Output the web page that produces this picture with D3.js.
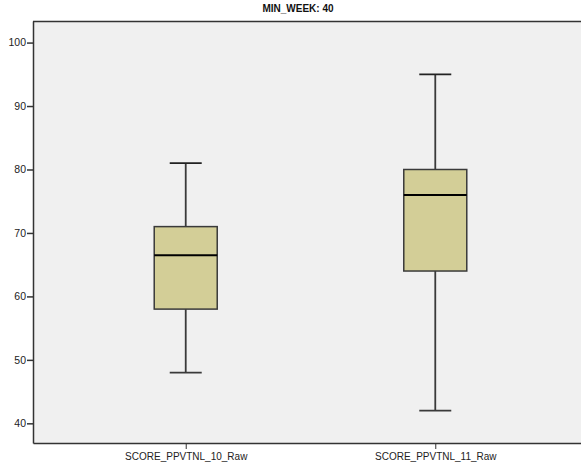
<!DOCTYPE html>
<html>
<head>
<meta charset="utf-8">
<script src="https://cdn.jsdelivr.net/npm/d3@7"></script>
<style>
  html, body { margin: 0; padding: 0; background: #ffffff; }
  svg { display: block; font-family: "Liberation Sans", Arial, sans-serif; }
</style>
</head>
<body>
<svg id="chart" width="581" height="469"></svg>
<script>
// Box-plot summaries per variable
const chartTitle = "MIN_WEEK: 40";
const categories = ["SCORE_PPVTNL_10_Raw", "SCORE_PPVTNL_11_Raw"];
const whiskerLow = [48, 42];
const quartile1 = [58, 64];
const medians = [66.5, 76];
const quartile3 = [71, 80];
const whiskerHigh = [81, 95];
const yTicks = [40, 50, 60, 70, 80, 90, 100];

const boxes = categories.map((c, i) => ({
  name: c, lo: whiskerLow[i], q1: quartile1[i], med: medians[i], q3: quartile3[i], hi: whiskerHigh[i]
}));

const svg = d3.select("#chart");
const plot = { left: 33, right: 588, top: 21, bottom: 443 };

const x = d3.scalePoint()
  .domain(categories)
  .range([plot.left, plot.right])
  .padding(0.612);

const y = d3.scaleLinear()
  .domain([36.9, 103.4])
  .range([plot.bottom, plot.top]);

// plot background
svg.append("rect")
  .attr("x", plot.left).attr("y", plot.top)
  .attr("width", plot.right - plot.left).attr("height", plot.bottom - plot.top)
  .attr("fill", "#f0f0f0");

// top frame line
svg.append("line")
  .attr("x1", plot.left).attr("x2", plot.right)
  .attr("y1", plot.top + 0.5).attr("y2", plot.top + 0.5)
  .attr("stroke", "#333").attr("stroke-width", 1.5);

// title
svg.append("text")
  .attr("x", 298).attr("y", 12)
  .attr("text-anchor", "middle")
  .attr("font-size", 10).attr("font-weight", "bold")
  .attr("fill", "#111")
  .text(chartTitle);

// y axis
const yAxis = svg.append("g")
  .attr("transform", `translate(${plot.left},0)`)
  .call(d3.axisLeft(y).tickValues(yTicks).tickSize(6).tickPadding(1).tickSizeOuter(0));
yAxis.select(".domain").attr("stroke", "#333").attr("stroke-width", 1.5);
yAxis.selectAll(".tick line").attr("stroke", "#333").attr("stroke-width", 1.5);
yAxis.selectAll(".tick text")
  .attr("font-size", 10.5).attr("fill", "#222")
  .attr("font-family", "Liberation Sans, Arial, sans-serif");

// x axis
const xAxis = svg.append("g")
  .attr("transform", `translate(0,${plot.bottom})`)
  .call(d3.axisBottom(x).tickSize(6).tickPadding(4).tickSizeOuter(0));
xAxis.select(".domain").attr("stroke", "#333").attr("stroke-width", 1.5);
xAxis.selectAll(".tick line").attr("stroke", "#333").attr("stroke-width", 1);
xAxis.selectAll(".tick text")
  .attr("font-size", 10).attr("fill", "#222")
  .attr("font-family", "Liberation Sans, Arial, sans-serif");

// boxes
const boxW = 63, capW = 32;
const g = svg.selectAll(".box").data(boxes).enter().append("g").attr("class", "box");

// whisker stems
g.append("line")
  .attr("x1", d => x(d.name)).attr("x2", d => x(d.name))
  .attr("y1", d => y(d.hi)).attr("y2", d => y(d.q3))
  .attr("stroke", "#3a3a3a").attr("stroke-width", 1.8);
g.append("line")
  .attr("x1", d => x(d.name)).attr("x2", d => x(d.name))
  .attr("y1", d => y(d.q1)).attr("y2", d => y(d.lo))
  .attr("stroke", "#3a3a3a").attr("stroke-width", 1.8);

// caps
g.append("line")
  .attr("x1", d => x(d.name) - capW / 2).attr("x2", d => x(d.name) + capW / 2)
  .attr("y1", d => y(d.hi)).attr("y2", d => y(d.hi))
  .attr("stroke", "#222").attr("stroke-width", 1.8);
g.append("line")
  .attr("x1", d => x(d.name) - capW / 2).attr("x2", d => x(d.name) + capW / 2)
  .attr("y1", d => y(d.lo)).attr("y2", d => y(d.lo))
  .attr("stroke", "#3a3a3a").attr("stroke-width", 1.8);

// box body
g.append("rect")
  .attr("x", d => x(d.name) - boxW / 2)
  .attr("y", d => y(d.q3))
  .attr("width", boxW)
  .attr("height", d => y(d.q1) - y(d.q3))
  .attr("fill", "#d3ce97")
  .attr("stroke", "#3a3a3a").attr("stroke-width", 1.5);

// median
g.append("line")
  .attr("x1", d => x(d.name) - boxW / 2).attr("x2", d => x(d.name) + boxW / 2)
  .attr("y1", d => y(d.med)).attr("y2", d => y(d.med))
  .attr("stroke", "#000").attr("stroke-width", 2);
</script>
</body>
</html>
